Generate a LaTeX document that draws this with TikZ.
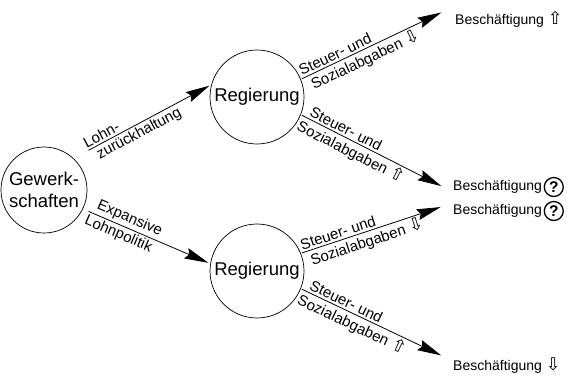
\documentclass[tikz,border=0pt]{standalone}
\usepackage{fontspec}
\setmainfont{Liberation Sans}
\newfontfamily\symfont{DejaVu Sans}
\newcommand{\upar}{{\symfont\fontsize{17.5}{17.5}\selectfont ⇧}}
\newcommand{\dnar}{{\symfont\fontsize{17.5}{17.5}\selectfont ⇩}}
\usetikzlibrary{arrows.meta}
\begin{document}
\begin{tikzpicture}[x=1pt,y=-1pt,
  actor/.style={circle,draw,line width=0.7pt,inner sep=0pt,font=\fontsize{18.5}{22}\selectfont,align=center},
  lbl/.style={font=\fontsize{15}{17}\selectfont,sloped,inner sep=2pt},
  conn/.style={line width=0.8pt,-{Stealth[length=24pt,width=11pt,inset=3pt]}},
  outtext/.style={font=\fontsize{14}{16}\selectfont,anchor=west,inner sep=0pt},
  qm/.style={circle,draw,line width=1.3pt,inner sep=0pt,minimum size=19pt,font=\bfseries\fontsize{15.5}{15.5}\selectfont}
]
\useasboundingbox (0,0) rectangle (579,376);
\node[actor,minimum size=86pt] (G) at (44,190) {Gewerk-\\schaften};
\node[actor,minimum size=94pt] (R1) at (257,97) {Regierung};
\node[actor,minimum size=94pt] (R2) at (257,271) {Regierung};

\node[outtext] (B1) at (455,19) {Beschäftigung \upar};
\node[outtext] (B2) at (453,187) {Beschäftigung};
\node[qm,anchor=west] (Q2) at ([xshift=1.5pt]B2.east) {?};
\node[outtext] (B3) at (453,211) {Beschäftigung};
\node[qm,anchor=west] (Q3) at ([xshift=1.5pt]B3.east) {?};
\node[outtext] (B4) at (453,366) {Beschäftigung \dnar};

\draw[conn, shorten <=17pt, shorten >=2pt] (G.47) -- (R1.165)
  node[lbl, pos=0.09, anchor=south west] {Lohn-}
  node[lbl, pos=0.13, anchor=north west] {zurückhaltung};
\draw[conn, shorten <=6pt, shorten >=2pt] (G.-26) -- (R2.171)
  node[lbl, pos=0.07, anchor=south west] {Expansive}
  node[lbl, pos=0.03, anchor=north west] {Lohnpolitik};

\draw[conn, shorten <=1pt, shorten >=15pt] (R1.22) -- ([yshift=13pt]B1.west)
  node[lbl, pos=0.0, anchor=south west] {Steuer- und}
  node[lbl, pos=0.03, anchor=north west] {Sozialabgaben \dnar};
\draw[conn, shorten <=1pt, shorten >=13pt] (R1.-22) -- ([yshift=-5pt]B2.west)
  node[lbl, pos=0.03, anchor=south west] {Steuer- und}
  node[lbl, pos=0.0, anchor=north west] {Sozialabgaben \upar};
\draw[conn, shorten <=1pt, shorten >=13pt] (R2.22) -- ([yshift=8pt]B3.west)
  node[lbl, pos=0.0, anchor=south west] {Steuer- und}
  node[lbl, pos=0.03, anchor=north west] {Sozialabgaben \dnar};
\draw[conn, shorten <=1pt, shorten >=13pt] (R2.-22) -- ([yshift=5pt]B4.west)
  node[lbl, pos=0.03, anchor=south west] {Steuer- und}
  node[lbl, pos=0.0, anchor=north west] {Sozialabgaben \upar};
\end{tikzpicture}
\end{document}
